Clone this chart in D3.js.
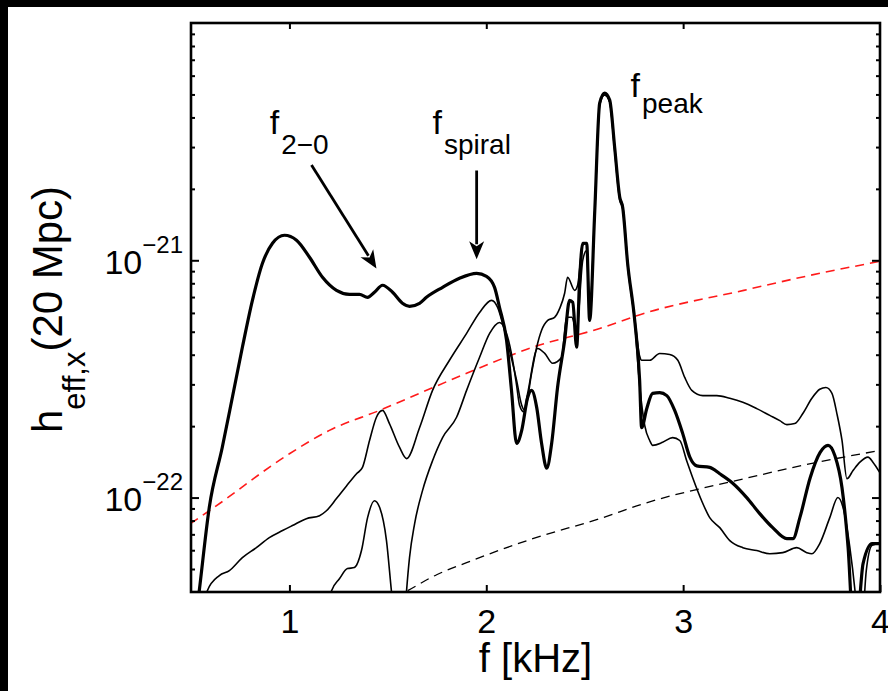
<!DOCTYPE html>
<html>
<head>
<meta charset="utf-8">
<script src="https://cdn.jsdelivr.net/npm/d3@7"></script>
<style>
  html, body { margin: 0; padding: 0; background: #fff; }
  svg { display: block; }
  text { font-family: "Liberation Sans", Arial, Helvetica, sans-serif; fill: #000; }
</style>
</head>
<body>
<svg id="chart" width="888" height="691"></svg>
<script>
// ---------------- data (frequency in kHz, strain in units of 1e-22) ----------------
const UNIT = 1e-22;

const thickF = [0.527,0.542,0.593,0.659,0.710,0.761,0.812,0.863,0.914,0.975,1.036,1.102,1.168,1.239,1.305,1.356,1.397,1.432,1.473,1.524,1.574,1.610,1.661,1.696,1.778,1.864,1.951,2.001,2.042,2.067,2.103,2.128,2.154,2.180,2.210,2.230,2.256,2.281,2.307,2.332,2.362,2.398,2.423,2.439,2.459,2.474,2.490,2.510,2.525,2.551,2.576,2.601,2.627,2.652,2.678,2.693,2.718,2.754,2.779,2.789,2.815,2.845,2.881,2.917,2.957,2.998,3.034,3.069,3.135,3.186,3.252,3.323,3.389,3.455,3.527,3.558,3.593,3.645,3.696,3.736,3.771,3.807,3.838,3.863,3.883,3.914,3.960,4.000];
const thickH = [0.32,0.405,0.91,1.63,2.64,4.30,6.78,9.71,11.8,12.75,12.15,10.3,8.48,7.47,7.19,7.19,6.98,7.33,7.85,7.33,6.59,6.40,6.59,6.98,7.69,8.40,8.81,8.56,7.69,6.34,4.60,2.83,1.69,1.92,2.64,2.83,2.40,1.69,1.33,1.69,2.91,4.6,6.78,6.65,4.30,8.23,11.8,11.8,5.58,16.1,46,50.7,47.3,30,18.45,16.7,9.71,5.58,3.12,1.97,2.37,2.75,2.77,2.69,2.33,1.86,1.48,1.36,1.34,1.26,1.15,1.0,0.856,0.747,0.671,0.671,0.823,1.21,1.55,1.66,1.50,1.10,0.615,0.30,0.30,0.527,0.640,0.640];

const thinAF = [0.568,0.583,0.644,0.695,0.761,0.832,0.898,0.965,1.015,1.086,1.153,1.188,1.239,1.290,1.341,1.371,1.407,1.442,1.473,1.508,1.559,1.595,1.661,1.727,1.813,1.900,1.966,2.027,2.057,2.083,2.118,2.154,2.180,2.195,2.230,2.256,2.281,2.312,2.347,2.373,2.398,2.413,2.449,2.464,2.490,2.510,2.525,2.551,2.576,2.601,2.627,2.652,2.678,2.693,2.718,2.754,2.779,2.789,2.830,2.881,2.932,2.973,3.008,3.044,3.100,3.171,3.237,3.303,3.374,3.440,3.491,3.527,3.567,3.608,3.654,3.694,3.725,3.756,3.781,3.807,3.832,3.863,3.898,3.939,3.964,4.0];
const thinAH = [0.368,0.405,0.469,0.492,0.558,0.615,0.678,0.726,0.762,0.815,0.839,0.88,0.99,1.12,1.26,1.34,1.74,2.18,2.33,2.05,1.63,1.46,1.97,2.83,3.79,4.92,6.03,6.78,6.34,5.42,4.17,3.12,2.45,2.33,3.34,4.30,5.07,5.58,5.75,6.27,7.26,8.48,7.47,7.85,11.6,11.8,6.0,16.1,46,49.7,46.5,30,18.45,17,9.8,5.7,3.95,3.79,3.79,4.05,4.01,3.79,3.21,2.83,2.69,2.69,2.62,2.52,2.37,2.22,2.11,2.03,2.05,2.26,2.62,2.86,2.91,2.75,2.26,1.74,1.20,1.30,1.41,1.48,1.41,1.27];

const thinCF = [1.193,1.214,1.254,1.295,1.330,1.366,1.397,1.432,1.458,1.493,1.518,1.534,1.559,1.584,1.595,1.610,1.636,1.676,1.727,1.778,1.849,1.900,1.966,2.017,2.067,2.103,2.134,2.154,2.169,2.190,2.210,2.261,2.297,2.337,2.383,2.408,2.434,2.459,2.490,2.510,2.525,2.551,2.576,2.601,2.627,2.652,2.678,2.693,2.718,2.754,2.779,2.805,2.830,2.845,2.896,2.947,2.983,3.018,3.049,3.094,3.135,3.186,3.237,3.303,3.374,3.440,3.506,3.577,3.628,3.654,3.694,3.745,3.786,3.812,3.847,3.873,3.888,3.909,3.930,3.960,4.0];
const thinCH = [0.35,0.405,0.455,0.502,0.507,0.598,0.823,0.97,0.91,0.659,0.405,0.303,0.169,0.303,0.405,0.558,0.777,1.07,1.43,1.79,2.18,2.83,3.90,4.92,5.47,4.92,3.79,2.97,2.45,2.3,2.75,4.25,4.05,3.68,3.90,5.75,5.75,5.07,10,11,5.58,16.1,45,49.7,46.5,29,17.9,16.5,9.5,5.47,2.97,2.01,1.74,1.66,1.71,1.79,1.74,1.43,1.21,0.97,0.823,0.747,0.659,0.615,0.598,0.580,0.586,0.615,0.586,0.580,0.640,0.823,1.00,0.91,0.615,0.405,0.3,0.3,0.49,0.63,0.64];

const redF = [0.497,0.593,1.0,1.203,1.458,1.661,1.900,2.236,2.576,2.800,3.308,3.648,4.0];
const redH = [0.777,0.88,1.53,1.92,2.33,2.75,3.34,4.30,5.16,5.97,7.47,8.65,9.9];

const blackF = [1.534,1.584,1.748,1.900,2.236,2.576,2.800,3.308,3.648,4.0];
const blackH = [0.378,0.398,0.473,0.532,0.671,0.815,0.943,1.20,1.39,1.58];

const xTicks = [1, 2, 3, 4];
const xTickLabels = ["1", "2", "3", "4"];
const yMajor = [1e-22, 1e-21];
const yMajorLabels = ["\u221222", "\u221221"];
const yMinor = [5e-23,6e-23,7e-23,8e-23,9e-23,2e-22,3e-22,4e-22,5e-22,6e-22,7e-22,8e-22,9e-22,2e-21,3e-21,4e-21,5e-21,6e-21,7e-21,8e-21,9e-21];

// annotations: label position (kHz, units) and arrow (tail -> tip)
const annotations = [
  { main: "f", sub: "2\u22120",  f: 0.900, h: 34.2, subDy: 20, arrow: { f0: 1.112, h0: 25.2, f1: 1.442, h1: 9.24 } },
  { main: "f", sub: "spiral", f: 1.727, h: 34.2, subDy: 20, arrow: { f0: 1.951, h0: 23.9, f1: 1.951, h1: 10.1 } },
  { main: "f", sub: "peak",   f: 2.733, h: 48.7, subDy: 16, arrow: null }
];

// ---------------- layout ----------------
const svg = d3.select("#chart");
const L = 191, R = 880, T = 23, B = 592;

svg.append("rect").attr("x", 0).attr("y", 0).attr("width", 888).attr("height", 7).attr("fill", "#000");
svg.append("rect").attr("x", 0).attr("y", 0).attr("width", 8).attr("height", 691).attr("fill", "#000");

const x = d3.scaleLinear().domain([0.5, 4]).range([L, R]);
const y = d3.scaleLog().domain([4e-23, 1e-20]).range([B, T]);

svg.append("clipPath").attr("id", "plotclip")
  .append("rect").attr("x", L).attr("y", T).attr("width", R - L).attr("height", B - T);

const plot = svg.append("g").attr("clip-path", "url(#plotclip)");

const zip = (F, H) => F.map((f, i) => [f, H[i] * UNIT]);
const line = d3.line().x(d => x(d[0])).y(d => y(d[1])).curve(d3.curveMonotoneX);

plot.append("path").datum(zip(redF, redH)).attr("d", line)
  .attr("fill", "none").attr("stroke", "#ff1a1a").attr("stroke-width", 1.6).attr("stroke-dasharray", "9,6");
plot.append("path").datum(zip(blackF, blackH)).attr("d", line)
  .attr("fill", "none").attr("stroke", "#000").attr("stroke-width", 1.3).attr("stroke-dasharray", "9,6");

[[thinAF, thinAH], [thinCF, thinCH]].forEach(([F, H]) => {
  plot.append("path").datum(zip(F, H)).attr("d", line)
    .attr("fill", "none").attr("stroke", "#000").attr("stroke-width", 1.6).attr("stroke-linejoin", "round");
});
plot.append("path").datum(zip(thickF, thickH)).attr("d", line)
  .attr("fill", "none").attr("stroke", "#000").attr("stroke-width", 3.2).attr("stroke-linejoin", "round");

// ---------------- axes ----------------
const axisStyle = g => {
  g.select(".domain").remove();
  g.selectAll(".tick line").attr("stroke", "#000").attr("stroke-width", 2);
};

const xb = svg.append("g").attr("transform", `translate(0,${B})`)
  .call(d3.axisBottom(x).tickValues(xTicks).tickSize(-7).tickPadding(0)
        .tickFormat((d, i) => xTickLabels[i]));
axisStyle(xb);
xb.selectAll(".tick text").attr("y", 41).attr("dy", 0)
  .attr("font-size", 34).attr("font-family", "Liberation Sans, Arial, sans-serif").attr("fill", "#000");

const xt = svg.append("g").attr("transform", `translate(0,${T})`)
  .call(d3.axisTop(x).tickValues(xTicks.filter(v => v < 4)).tickSize(-6).tickFormat(""));
axisStyle(xt);

const yl = svg.append("g").attr("transform", `translate(${L},0)`)
  .call(d3.axisLeft(y).tickValues(yMajor).tickSize(-8).tickPadding(8).tickFormat(""));
axisStyle(yl);
yl.selectAll(".tick text").each(function (d, i) {
  const t = d3.select(this).attr("dy", 0).attr("y", 13).attr("font-family", "Liberation Sans, Arial, sans-serif").attr("fill", "#000");
  t.append("tspan").attr("font-size", 34).text("10");
  t.append("tspan").attr("font-size", 24).attr("dy", -21).text(yMajorLabels[i]);
});
const ylm = svg.append("g").attr("transform", `translate(${L},0)`)
  .call(d3.axisLeft(y).tickValues(yMinor).tickSize(-4).tickFormat(""));
axisStyle(ylm);

const yr = svg.append("g").attr("transform", `translate(${R},0)`)
  .call(d3.axisRight(y).tickValues(yMajor).tickSize(-8).tickFormat(""));
axisStyle(yr);
const yrm = svg.append("g").attr("transform", `translate(${R},0)`)
  .call(d3.axisRight(y).tickValues(yMinor).tickSize(-4).tickFormat(""));
axisStyle(yrm);

// frame
svg.append("rect").attr("x", L).attr("y", T).attr("width", R - L).attr("height", B - T)
  .attr("fill", "none").attr("stroke", "#000").attr("stroke-width", 2.6);

// axis titles
svg.append("text").attr("x", (L + R) / 2).attr("y", 672).attr("text-anchor", "middle")
  .attr("font-size", 40).text("f [kHz]");

const yt = svg.append("text").attr("transform", "translate(62,433) rotate(-90)").attr("font-size", 42);
yt.append("tspan").text("h");
yt.append("tspan").attr("font-size", 31).attr("dy", 23).text("eff,x");
yt.append("tspan").attr("dy", -23).text("(20 Mpc)");

// ---------------- annotations ----------------
annotations.forEach(a => {
  const t = svg.append("text").attr("x", x(a.f)).attr("y", y(a.h * UNIT)).attr("font-size", 34);
  t.append("tspan").text(a.main);
  t.append("tspan").attr("font-size", 28).attr("dy", a.subDy).attr("dx", 2).text(a.sub);
  if (a.arrow) {
    const x0 = x(a.arrow.f0), y0 = y(a.arrow.h0 * UNIT);
    const x1 = x(a.arrow.f1), y1 = y(a.arrow.h1 * UNIT);
    const ang = Math.atan2(y1 - y0, x1 - x0);
    const hl = 18, hw = 7.5;
    const bx = x1 - hl * Math.cos(ang), by = y1 - hl * Math.sin(ang);
    svg.append("line").attr("x1", x0).attr("y1", y0).attr("x2", bx + 3 * Math.cos(ang)).attr("y2", by + 3 * Math.sin(ang))
      .attr("stroke", "#000").attr("stroke-width", 2.8);
    const px = -Math.sin(ang), py = Math.cos(ang);
    const inset = 5;
    const ix = x1 - (hl - inset) * Math.cos(ang), iy = y1 - (hl - inset) * Math.sin(ang);
    svg.append("path")
      .attr("d", `M${x1},${y1} L${bx + hw * px},${by + hw * py} L${ix},${iy} L${bx - hw * px},${by - hw * py} Z`)
      .attr("fill", "#000");
  }
});
</script>
</body>
</html>
